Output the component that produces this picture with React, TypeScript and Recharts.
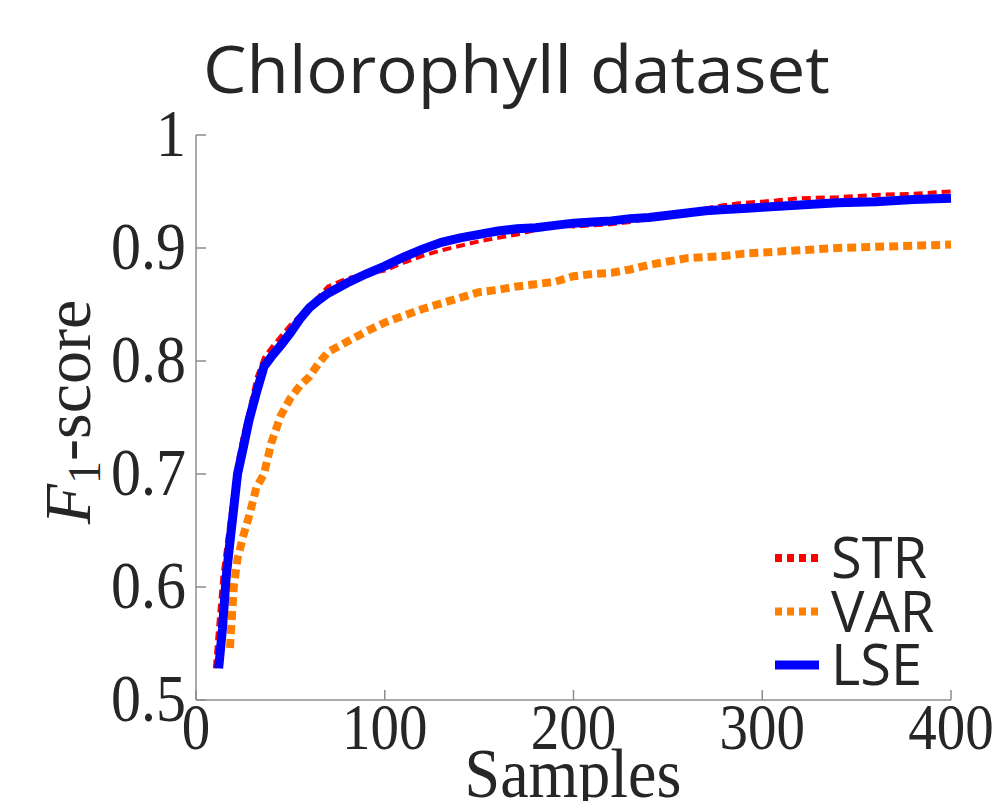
import React from "react";
import { LineChart, Line, XAxis, YAxis } from "recharts";

const samples = [10, 12, 14, 16, 18, 20, 22, 25, 28, 32, 36, 40, 45, 50, 55, 60, 65, 70, 80, 90, 100, 110, 120, 130, 140, 150, 160, 170, 180, 190, 200, 210, 220, 230, 240, 250, 260, 270, 280, 290, 300, 320, 340, 360, 380, 400];

const strValues = [0.528, 0.57, 0.61, 0.635, 0.66, 0.685, 0.71, 0.735, 0.755, 0.785, 0.803, 0.812, 0.822, 0.832, 0.84, 0.849, 0.857, 0.866, 0.873, 0.877, 0.88, 0.887, 0.893, 0.898, 0.902, 0.906, 0.909, 0.912, 0.916, 0.92, 0.919, 0.92, 0.921, 0.923, 0.926, 0.929, 0.932, 0.935, 0.938, 0.94, 0.941, 0.944, 0.945, 0.947, 0.948, 0.95];

const varValues = [null, null, null, null, 0.546, 0.6, 0.625, 0.645, 0.662, 0.688, 0.7, 0.728, 0.752, 0.767, 0.778, 0.786, 0.798, 0.808, 0.817, 0.826, 0.834, 0.84, 0.846, 0.851, 0.856, 0.861, 0.863, 0.866, 0.868, 0.87, 0.875, 0.877, 0.878, 0.881, 0.885, 0.888, 0.891, 0.892, 0.893, 0.895, 0.896, 0.898, 0.9, 0.901, 0.902, 0.903];

const lseValues = [null, 0.528, 0.563, 0.609, 0.64, 0.67, 0.7, 0.723, 0.747, 0.772, 0.795, 0.804, 0.814, 0.825, 0.837, 0.847, 0.854, 0.86, 0.869, 0.877, 0.884, 0.892, 0.899, 0.905, 0.909, 0.912, 0.915, 0.917, 0.918, 0.92, 0.922, 0.923, 0.924, 0.926, 0.927, 0.929, 0.931, 0.933, 0.934, 0.935, 0.936, 0.938, 0.94, 0.941, 0.943, 0.944];

const xTicks = [0, 100, 200, 300, 400];
const yTicks = [0.5, 0.6, 0.7, 0.8, 0.9, 1];

const seriesNames = ["STR", "VAR", "LSE"];
const seriesColors = ["#ff0000", "#ff8000", "#0000ff"];

const data = samples.map((s, i) => ({
  samples: s,
  STR: strValues[i],
  VAR: varValues[i],
  LSE: lseValues[i],
}));

const SERIF = "'Liberation Serif', 'DejaVu Serif', serif";
const SANS = "'Open Sans', 'Noto Sans', sans-serif";

const fmtY = (v: number) => (v === 1 ? "1" : v.toFixed(1));

const XTick = (props: any) => {
  const { x, y, payload } = props;
  return (
    <g transform={`translate(${x},${y}) scale(1,1.15)`}>
      <text x={0} y={38} textAnchor="middle" fontFamily={SERIF} fontSize={57} fill="#262626">
        {payload.value}
      </text>
    </g>
  );
};

const YTick = (props: any) => {
  const { x, y, payload } = props;
  return (
    <g transform={`translate(${x},${y}) scale(1,1.12)`}>
      <text x={0} y={19} textAnchor="end" fontFamily={SERIF} fontSize={60} fill="#262626">
        {fmtY(payload.value)}
      </text>
    </g>
  );
};

export default function App() {
  return (
    <div style={{ position: "absolute", left: 0, top: 0, width: 994, height: 801, background: "#fff" }}>
      <LineChart
        width={994}
        height={801}
        data={data}
        margin={{ top: 135, right: 43, bottom: 0, left: 0 }}
      >
        <XAxis
          dataKey="samples"
          type="number"
          domain={[0, 400]}
          ticks={xTicks}
          height={101}
          stroke="#8c8c8c"
          strokeWidth={1.5}
          tickSize={-10}
          tickMargin={15}
          tick={<XTick />}
          interval={0}
        />
        <YAxis
          type="number"
          domain={[0.5, 1]}
          ticks={yTicks}
          width={196}
          stroke="#8c8c8c"
          strokeWidth={1.5}
          tickSize={-10}
          tickMargin={20}
          tick={<YTick />}
          interval={0}
          allowDataOverflow
        />
        <Line
          dataKey="VAR"
          stroke={seriesColors[1]}
          strokeWidth={8}
          strokeDasharray="9 5"
          dot={false}
          isAnimationActive={false}
          connectNulls={false}
        />
        <Line
          dataKey="STR"
          stroke={seriesColors[0]}
          strokeWidth={4}
          strokeDasharray="9 5"
          dot={false}
          isAnimationActive={false}
        />
        <Line
          dataKey="LSE"
          stroke={seriesColors[2]}
          strokeWidth={9}
          dot={false}
          isAnimationActive={false}
        />
      </LineChart>
      <svg
        width={994}
        height={801}
        style={{ position: "absolute", left: 0, top: 0, pointerEvents: "none" }}
      >
        <text
          x={203}
          y={93}
          fontFamily={SANS}
          fontSize={66}
          fill="#262626"
          textLength={627}
          lengthAdjust="spacingAndGlyphs"
        >
          Chlorophyll dataset
        </text>
        <g transform="translate(90,412) rotate(-90)">
          <text x={0} y={0} textAnchor="middle" fontFamily={SERIF} fontSize={66} fill="#262626">
            <tspan fontStyle="italic">F</tspan>
            <tspan fontSize={46} dy={10}>1</tspan>
            <tspan dy={-10}>-score</tspan>
          </text>
        </g>
        <g transform="translate(573,797) scale(1,1.1)">
          <text x={0} y={0} textAnchor="middle" fontFamily={SERIF} fontSize={64} fill="#262626">
            Samples
          </text>
        </g>
        {seriesNames.map((name, i) => {
          const ly = 558 + i * 53.5;
          return (
            <g key={name}>
              <line
                x1={775}
                x2={819}
                y1={ly}
                y2={ly}
                stroke={seriesColors[i]}
                strokeWidth={i === 2 ? 9 : 8}
                strokeDasharray={i === 2 ? undefined : "7 5"}
              />
              <text x={831} y={ly + 20} fontFamily={SANS} fontSize={56} fill="#262626">
                {name}
              </text>
            </g>
          );
        })}
      </svg>
    </div>
  );
}
